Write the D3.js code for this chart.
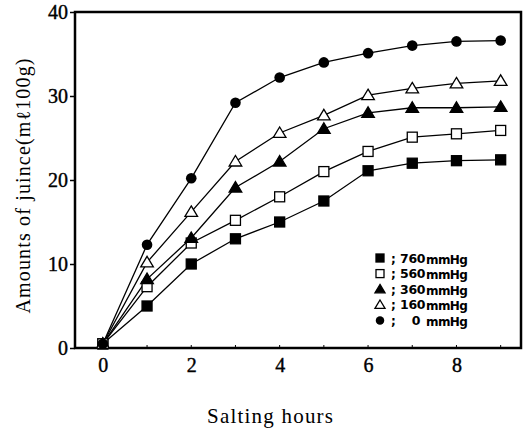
<!DOCTYPE html>
<html><head><meta charset="utf-8">
<script src="https://cdn.jsdelivr.net/npm/d3@7/dist/d3.min.js"></script>
<style>body{margin:0;background:#fff}svg{display:block}</style>
</head><body>
<script>
const hours = [0,1,2,3,4,5,6,7,8,9];
const seriesNames = ["760","560","360","160","0"];
const symbols = ["squareFilled","squareOpen","triFilled","triOpen","circleFilled"];
const v760 = [0.5,5.0,10.0,13.0,15.0,17.5,21.1,22.0,22.3,22.4];
const v560 = [0.5,7.3,12.5,15.2,18.0,21.0,23.4,25.1,25.5,25.9];
const v360 = [0.5,8.2,13.1,19.1,22.2,26.1,28.0,28.6,28.6,28.7];
const v160 = [0.5,10.2,16.2,22.2,25.6,27.7,30.1,30.9,31.5,31.8];
const v0   = [0.5,12.3,20.2,29.2,32.2,34.0,35.1,36.0,36.5,36.6];
const values = [v760,v560,v360,v160,v0];
const xTicks = [0,2,4,6,8];
const yTicks = [0,10,20,30,40];

const W=523,H=432;
const svg=d3.select("body").append("svg").attr("width",W).attr("height",H);
const L=75,R=521,T=12,B=348;
const x=d3.scaleLinear().domain([-0.63,9.46]).range([L,R]);
const y=d3.scaleLinear().domain([0,40]).range([B,T]);

// frame
svg.append("rect").attr("x",L).attr("y",T).attr("width",R-L).attr("height",B-T)
  .attr("fill","none").attr("stroke","#000").attr("stroke-width",2.5);

// y axis
const ya=svg.append("g").attr("transform",`translate(${L},0)`)
  .call(d3.axisLeft(y).tickValues(yTicks).tickSize(5).tickPadding(2));
ya.select(".domain").remove();
ya.selectAll("line").attr("stroke-width",1.5);
ya.selectAll("text").attr("font-family","Liberation Serif").attr("font-size",20).attr("fill","#000").attr("stroke","#000").attr("stroke-width",0.4);

// x axis
const xa=svg.append("g").attr("transform",`translate(0,${B})`)
  .call(d3.axisBottom(x).tickValues(xTicks).tickSize(0).tickPadding(10));
xa.select(".domain").remove();
xa.selectAll("text").attr("font-family","Liberation Serif").attr("font-size",20).attr("fill","#000").attr("stroke","#000").attr("stroke-width",0.4);
svg.append("g").selectAll("line").data(d3.range(0,10)).join("line")
  .attr("x1",d=>x(d)).attr("x2",d=>x(d)).attr("y1",B).attr("y2",B-3)
  .attr("stroke","#000").attr("stroke-width",1);

// titles
svg.append("text").attr("x",270).attr("y",423).attr("text-anchor","middle")
  .attr("font-family","Liberation Serif").attr("font-size",21)
  .attr("textLength",126).attr("lengthAdjust","spacing").text("Salting hours");
svg.append("text").attr("transform","translate(30,186) rotate(-90)").attr("text-anchor","middle")
  .attr("font-family","Liberation Serif").attr("font-size",20)
  .attr("textLength",255).attr("lengthAdjust","spacing").text("Amounts of juince(mℓ100g)");

// lines
const line=d3.line().x((d,i)=>x(hours[i])).y(d=>y(d));
values.forEach(v=>{
  svg.append("path").attr("d",line(v)).attr("fill","none").attr("stroke","#000").attr("stroke-width",1.3);
});

function drawSym(g,type,cx,cy,k){
  k=k||1;
  if(type.startsWith("square")){
    const s=5*k;
    g.append("rect").attr("x",cx-s).attr("y",cy-s).attr("width",2*s).attr("height",2*s)
      .attr("fill",type==="squareFilled"?"#000":"#fff").attr("stroke","#000").attr("stroke-width",1.3);
  } else if(type.startsWith("tri")){
    const s=6*k;
    g.append("path").attr("d",`M${cx},${cy-s}L${cx+s*1.05},${cy+s*0.75}L${cx-s*1.05},${cy+s*0.75}Z`)
      .attr("fill",type==="triFilled"?"#000":"#fff").attr("stroke","#000").attr("stroke-width",1.3);
  } else {
    g.append("circle").attr("cx",cx).attr("cy",cy).attr("r",5.3*k).attr("fill","#000");
  }
}
const mg=svg.append("g");
values.forEach((v,si)=>{
  v.forEach((d,i)=>drawSym(mg,symbols[si],x(hours[i]),y(d)));
});

// legend
const lg=svg.append("g");
seriesNames.forEach((n,i)=>{
  const cy=258+i*15.6;
  drawSym(lg,symbols[i],380,cy,0.8);
  lg.append("text").attr("x",391).attr("y",cy+4.5).attr("font-family","DejaVu Sans").attr("font-weight","bold").attr("font-size",12).text(";");
  lg.append("text").attr("x",n==="0"?420:425).attr("y",cy+4.5).attr("text-anchor","end").attr("font-family","DejaVu Sans").attr("font-weight","bold").attr("font-size",12.5).attr("letter-spacing",-0.4).text(n);
  lg.append("text").attr("x",426).attr("y",cy+5.5).attr("font-family","DejaVu Sans").attr("font-weight","bold").attr("font-size",12).attr("letter-spacing",-0.6).text("mmHg");
});
</script>
</body></html>
